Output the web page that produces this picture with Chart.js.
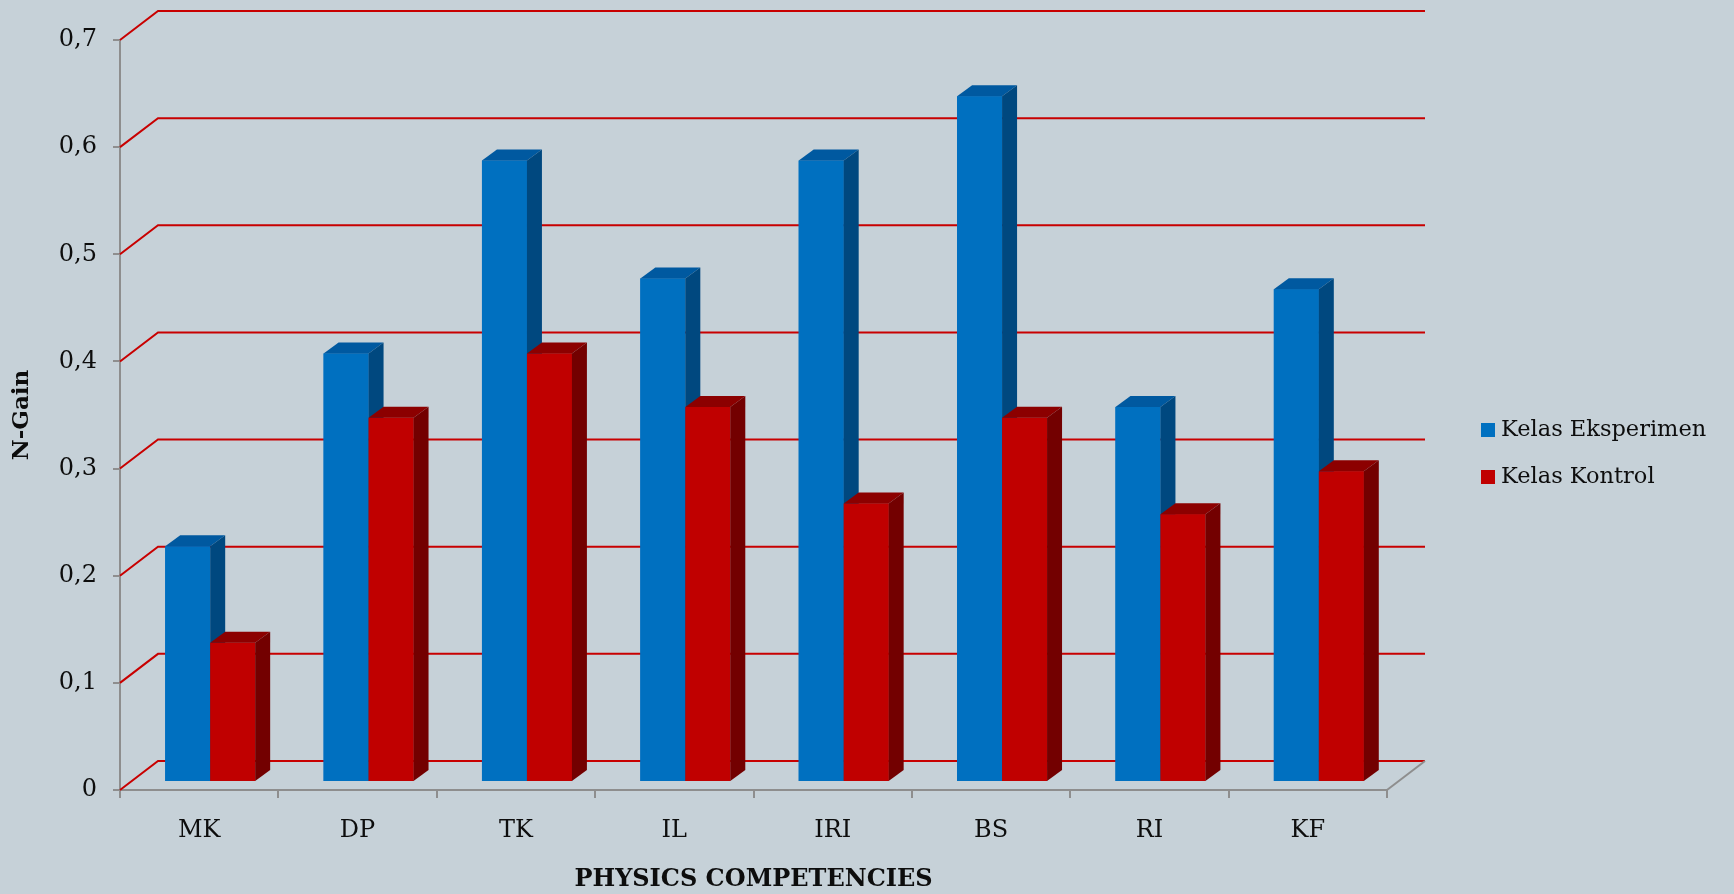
<!DOCTYPE html>
<html>
<head>
<meta charset="utf-8">
<title>N-Gain per Physics Competency</title>
<script src="https://cdn.jsdelivr.net/npm/chart.js@4.4.1/dist/chart.umd.min.js"></script>
<style>
    html, body { margin: 0; padding: 0; background: #c6d1d8; }
    #wrap { width: 1734px; height: 894px; }
</style>
</head>
<body>
<div id="wrap"><canvas id="chart" width="1734" height="894"></canvas></div>
<script>
"use strict";

var categories = ["MK", "DP", "TK", "IL", "IRI", "BS", "RI", "KF"];
var kelasEksperimen = [0.22, 0.40, 0.58, 0.47, 0.58, 0.64, 0.35, 0.46];
var kelasKontrol = [0.13, 0.34, 0.40, 0.35, 0.26, 0.34, 0.25, 0.29];
var yTickLabels = ["0", "0,1", "0,2", "0,3", "0,4", "0,5", "0,6", "0,7"];
var seriesNames = ["Kelas Eksperimen", "Kelas Kontrol"];

var FONT = "'DejaVu Serif', 'Liberation Serif', serif";
var AXIS_GRAY = "#8e8e8e";

// offsets for the fake 3D look (back wall, bar position in depth, bar depth)
var depth = { wallX: 38, wallY: 29, shiftX: 11, shiftY: 8, barX: 15, barY: 11 };

/**
 * Draws the perspective gridlines, the 3D bars and the legend.
 */
var threeD = {
    id: "threeD",

    beforeDatasetsDraw: function (chart) {
        var ctx = chart.ctx;
        var yScale = chart.scales.y;
        var area = chart.chartArea;

        ctx.save();
        ctx.lineWidth = 2;
        ctx.strokeStyle = "#c80000";
        yScale.ticks.forEach(function (tick) {
            var py = yScale.getPixelForValue(tick.value);
            ctx.beginPath();
            ctx.moveTo(area.left, py);
            ctx.lineTo(area.left + depth.wallX, py - depth.wallY);
            ctx.lineTo(area.right + depth.wallX, py - depth.wallY);
            ctx.stroke();
        });

        // right edge of the floor
        ctx.strokeStyle = AXIS_GRAY;
        ctx.beginPath();
        ctx.moveTo(area.right, area.bottom);
        ctx.lineTo(area.right + depth.wallX, area.bottom - depth.wallY);
        ctx.stroke();
        ctx.restore();
    },

    beforeDatasetDraw: function (chart) {
        chart.ctx.save();
        chart.ctx.translate(depth.shiftX, -depth.shiftY);
    },

    afterDatasetDraw: function (chart) {
        chart.ctx.restore();
    },

    // redraw every bar with its top and side, left series first so the
    // right bar of each pair hides the side of the left one
    afterDatasetsDraw: function (chart) {
        var ctx = chart.ctx;

        ctx.save();
        ctx.translate(depth.shiftX, -depth.shiftY);
        chart.data.datasets.forEach(function (ds, i) {
            chart.getDatasetMeta(i).data.forEach(function (bar) {
                var p = bar.getProps(["x", "y", "base", "width"], true);
                var l = p.x - p.width / 2;
                var r = p.x + p.width / 2;

                ctx.fillStyle = ds.backgroundColor;
                ctx.fillRect(l, p.y, p.width, p.base - p.y);

                ctx.fillStyle = ds.topColor;
                ctx.beginPath();
                ctx.moveTo(l, p.y);
                ctx.lineTo(l + depth.barX, p.y - depth.barY);
                ctx.lineTo(r + depth.barX, p.y - depth.barY);
                ctx.lineTo(r, p.y);
                ctx.closePath();
                ctx.fill();

                ctx.fillStyle = ds.sideColor;
                ctx.beginPath();
                ctx.moveTo(r, p.y);
                ctx.lineTo(r + depth.barX, p.y - depth.barY);
                ctx.lineTo(r + depth.barX, p.base - depth.barY);
                ctx.lineTo(r, p.base);
                ctx.closePath();
                ctx.fill();
            });
        });
        ctx.restore();
    },

    afterDraw: function (chart) {
        var ctx = chart.ctx;
        var x = chart.chartArea.right + 94;

        ctx.save();
        ctx.font = "22.5px " + FONT;
        ctx.textBaseline = "middle";
        chart.data.datasets.forEach(function (ds, i) {
            var cy = 430 + i * 47;
            ctx.fillStyle = ds.backgroundColor;
            ctx.fillRect(x, cy - 7, 14, 14);
            ctx.fillStyle = "#0d0d0d";
            ctx.fillText(ds.label, x + 20, cy);
        });
        ctx.restore();
    }
};

Chart.defaults.font.family = FONT;
Chart.defaults.color = "#0d0d0d";

new Chart(document.getElementById("chart"), {
    type: "bar",
    data: {
        labels: categories,
        datasets: [
            {
                label: seriesNames[0],
                data: kelasEksperimen,
                backgroundColor: "#0070c0",
                topColor: "#0059a0",
                sideColor: "#00487f",
                clip: false
            },
            {
                label: seriesNames[1],
                data: kelasKontrol,
                backgroundColor: "#c00000",
                topColor: "#8c0000",
                sideColor: "#730000",
                clip: false
            }
        ]
    },
    plugins: [threeD],
    options: {
        responsive: false,
        animation: false,
        layout: { padding: { left: 0, right: 347, top: 40, bottom: 0 } },
        datasets: {
            bar: { categoryPercentage: 0.568, barPercentage: 1.0, borderWidth: 0 }
        },
        plugins: {
            legend: { display: false },
            tooltip: { enabled: false }
        },
        scales: {
            x: {
                grid: { display: true, drawOnChartArea: false, tickLength: 8, color: AXIS_GRAY, lineWidth: 2 },
                border: { color: AXIS_GRAY, width: 2 },
                ticks: { font: { size: 24 }, padding: 18, color: "#0d0d0d" },
                title: {
                    display: true,
                    text: "PHYSICS COMPETENCIES",
                    font: { size: 24, weight: "bold" },
                    padding: { top: 0, bottom: 0 },
                    color: "#0d0d0d"
                },
                afterFit: function (scale) { scale.height = 104; }
            },
            y: {
                min: 0,
                max: 0.7,
                grid: { display: true, drawOnChartArea: false, tickLength: 7, color: AXIS_GRAY, lineWidth: 2 },
                border: { color: AXIS_GRAY, width: 2 },
                ticks: {
                    stepSize: 0.1,
                    padding: 16,
                    font: { size: 24 },
                    color: "#0d0d0d",
                    callback: function (value, index) { return yTickLabels[index]; }
                },
                title: {
                    display: true,
                    text: "N-Gain",
                    font: { size: 23, weight: "bold" },
                    padding: { top: 8, bottom: 0 },
                    color: "#0d0d0d"
                },
                afterFit: function (scale) { scale.width = 120; }
            }
        }
    }
});
</script>
</body>
</html>
